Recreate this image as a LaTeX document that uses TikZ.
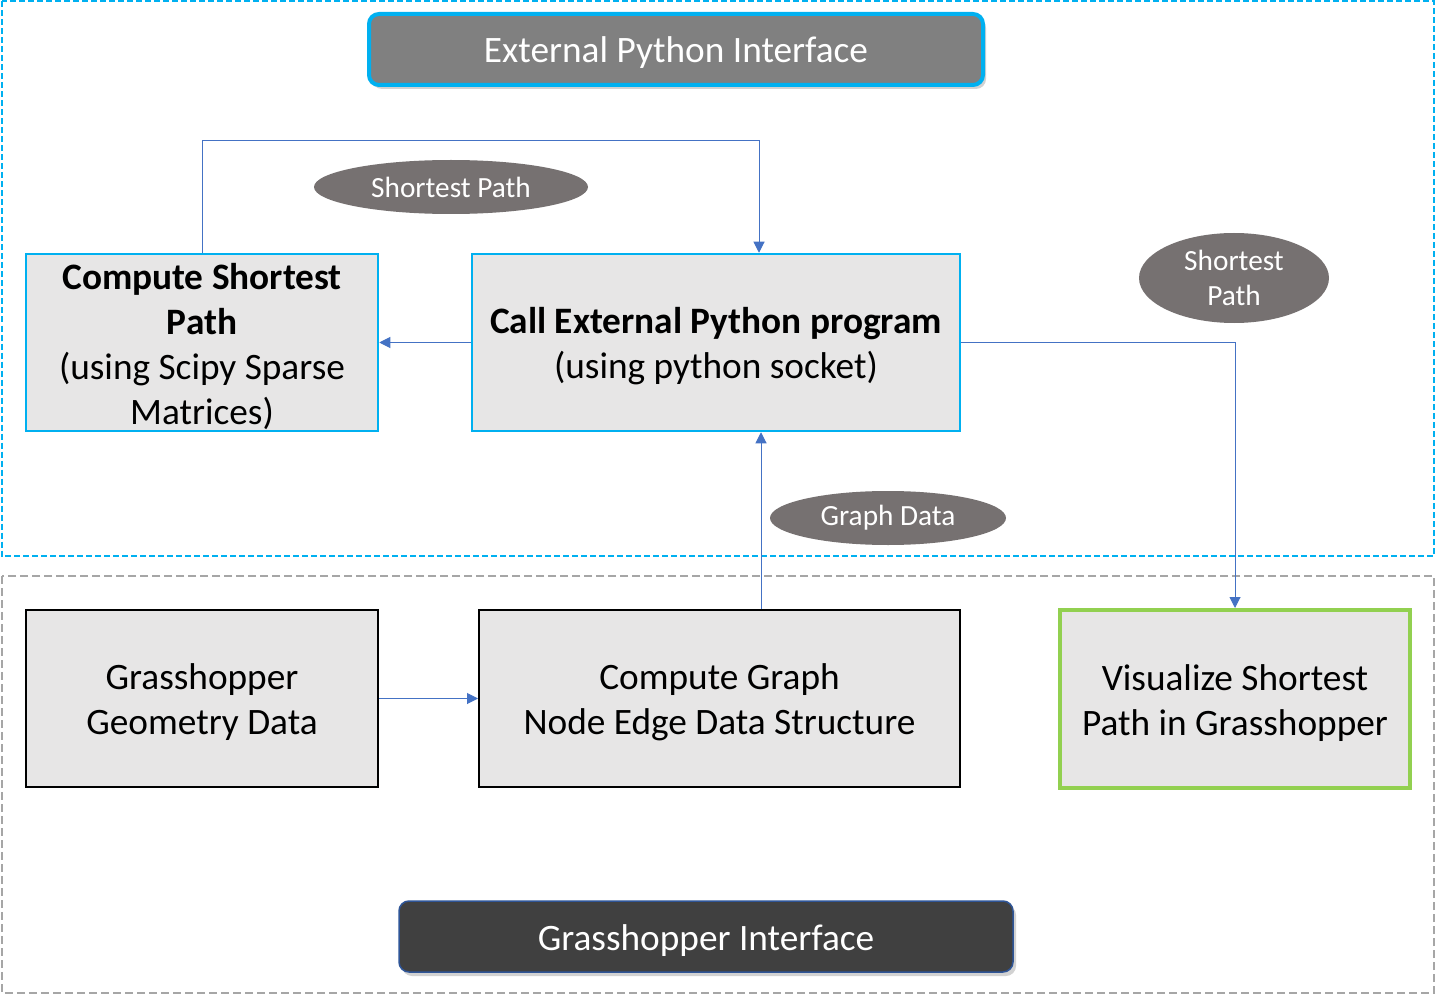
\documentclass[tikz,border=0pt]{standalone}
\usepackage{fontspec}
\setmainfont{Carlito}
\usetikzlibrary{arrows.meta,shadows,calc,shapes.geometric}
\definecolor{cyanb}{HTML}{00B0F0}
\definecolor{grayd}{HTML}{A6A6A6}
\definecolor{boxfill}{HTML}{E7E6E6}
\definecolor{ellfill}{HTML}{767171}
\definecolor{conn}{HTML}{4472C4}
\definecolor{greenb}{HTML}{92D050}
\definecolor{darkfill}{HTML}{404040}
\definecolor{darkblue}{HTML}{2F5597}
\definecolor{midgray}{HTML}{808080}
\newcommand{\upstrut}{\rule{0pt}{33pt}}
\tikzset{
  box/.style={draw, fill=boxfill, line width=2.5pt, inner sep=0pt},
  txt/.style={align=center, inner sep=0pt, font=\fontsize{37.3}{45}\selectfont},
  lbl/.style={ellipse, fill=ellfill, text=white, align=center, inner sep=0pt,
    font=\fontsize{29.3}{35}\selectfont},
  title/.style={rounded corners=10pt, text=white, minimum width=614pt, minimum height=71pt,
    font=\fontsize{37.3}{45}\selectfont, execute at begin node=\upstrut,
    drop shadow={shadow xshift=3pt, shadow yshift=-4pt, opacity=0.35}},
  arr/.style={draw=conn, line width=1pt, -{Triangle[width=11pt,length=11pt]}}
}
\begin{document}
\begin{tikzpicture}[x=1pt,y=-1pt]
\useasboundingbox (0,0) rectangle (1436,995);
\fill[white] (0,0) rectangle (1436,995);
% group frames
\draw[cyanb, line width=2pt, dash pattern=on 6pt off 3pt] (1.5,1.5) rectangle (1434,556);
\draw[grayd, line width=2pt, dash pattern=on 8pt off 4pt] (2,576) rectangle (1434,993);
% titles
\node[title, fill=midgray, draw=cyanb, line width=4pt] (t1) at (676,49.5) {External Python Interface};
\node[title, fill=darkfill, draw=darkblue, line width=1.5pt] (t2) at (706,936.5) {Grasshopper Interface};
% boxes
\node[box, draw=cyanb, minimum width=352pt, minimum height=177pt] (csp) at (202,342.5) {};
\node[txt] (csp-t) at ([yshift=-4pt]csp.center)
  {\textbf{Compute Shortest}\\\textbf{Path}\\(using Scipy Sparse\\Matrices)};
\node[box, draw=cyanb, minimum width=488pt, minimum height=177pt] (call) at (716,342.5) {};
\node[txt] (call-t) at ([yshift=-4pt]call.center)
  {\textbf{Call External Python program}\\(using python socket)};
\node[box, draw=black, line width=2pt, minimum width=352pt, minimum height=177pt] (geo) at (202,698.5) {};
\node[txt] (geo-t) at ([yshift=-4pt]geo.center) {Grasshopper\\Geometry Data};
\node[box, draw=black, line width=2pt, minimum width=481pt, minimum height=177pt] (cg) at (719.5,698.5) {};
\node[txt] (cg-t) at ([yshift=-4pt]cg.center) {Compute Graph\\Node Edge Data Structure};
\node[box, draw=greenb, line width=4pt, minimum width=350pt, minimum height=178pt] (vis) at (1235,699) {};
\node[txt] (vis-t) at ([yshift=-4pt]vis.center) {Visualize Shortest\\Path in Grasshopper};
% ellipse labels
\node[lbl, minimum width=274pt, minimum height=54pt] (l1) at (451,187) {Shortest Path};
\node[lbl, minimum width=190pt, minimum height=90pt] (l2) at (1234,278) {Shortest\\Path};
\node[lbl, minimum width=236pt, minimum height=54pt] (l3) at (888,518) {Graph Data};
% connectors
\draw[arr] (csp.north) -- ++(0,-112) -| ([xshift=43pt]call.north);
\draw[arr] (call.west) -- (csp.east);
\draw[arr] (call.east) -| (vis.north);
\draw[arr] ([xshift=41.5pt]cg.north) -- ([xshift=41.5pt]cg.north |- call.south);
\draw[arr] (geo.east) -- (cg.west);
\end{tikzpicture}
\end{document}
